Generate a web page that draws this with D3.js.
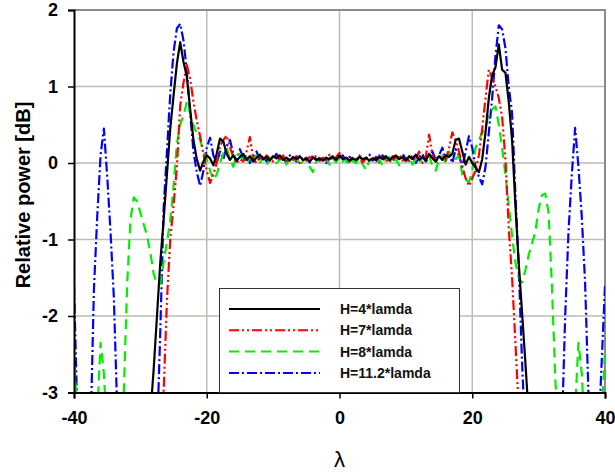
<!DOCTYPE html>
<html>
<head>
<meta charset="utf-8">
<script src="https://cdn.jsdelivr.net/npm/d3@7"></script>
<style>
  body { margin: 0; background: #fff; }
  svg { display: block; font-family: Arial, "Liberation Sans", sans-serif; }
</style>
</head>
<body>
<div id="container"></div>
<script>
// sample grid (wavelength offset), step 0.5
const lam = [
  -40, -39.5, -39, -38.5, -38, -37.5, -37, -36.5, -36, -35.5,
  -35, -34.5, -34, -33.5, -33, -32.5, -32, -31.5, -31, -30.5,
  -30, -29.5, -29, -28.5, -28, -27.5, -27, -26.5, -26, -25.5,
  -25, -24.5, -24, -23.5, -23, -22.5, -22, -21.5, -21, -20.5,
  -20, -19.5, -19, -18.5, -18, -17.5, -17, -16.5, -16, -15.5,
  -15, -14.5, -14, -13.5, -13, -12.5, -12, -11.5, -11, -10.5,
  -10, -9.5, -9, -8.5, -8, -7.5, -7, -6.5, -6, -5.5,
  -5, -4.5, -4, -3.5, -3, -2.5, -2, -1.5, -1, -0.5,
  0, 0.5, 1, 1.5, 2, 2.5, 3, 3.5, 4, 4.5,
  5, 5.5, 6, 6.5, 7, 7.5, 8, 8.5, 9, 9.5,
  10, 10.5, 11, 11.5, 12, 12.5, 13, 13.5, 14, 14.5,
  15, 15.5, 16, 16.5, 17, 17.5, 18, 18.5, 19, 19.5,
  20, 20.5, 21, 21.5, 22, 22.5, 23, 23.5, 24, 24.5,
  25, 25.5, 26, 26.5, 27, 27.5, 28, 28.5, 29, 29.5,
  30, 30.5, 31, 31.5, 32, 32.5, 33, 33.5, 34, 34.5,
  35, 35.5, 36, 36.5, 37, 37.5, 38, 38.5, 39, 39.5,
  40
];

// relative power [dB]; values below -3 run off the bottom of the plot
const h4 = [
  -3.6, -3.6, -3.6, -3.6, -3.6, -3.6, -3.6, -3.6, -3.6, -3.6,
  -3.6, -3.6, -3.6, -3.6, -3.6, -3.6, -3.6, -3.6, -3.6, -3.6,
  -3.6, -3.6, -3.6, -3.3, -2.7, -2.0, -1.3, -0.75, -0.15, 0.45,
  0.88, 1.3, 1.58, 1.32, 1.13, 0.7, 0.3, 0.05, -0.1, 0.02,
  0.1, 0.06, -0.03, 0.12, 0.32, 0.28, 0.12, 0.04, 0.1, 0.03,
  0.08, 0.12, 0.04, 0.09, 0.02, 0.07, 0.11, 0.05, 0.08, 0.03,
  0.09, 0.06, 0.1, 0.04, 0.07, 0.03, 0.08, 0.05, 0.09, 0.04,
  0.06, 0.02, 0.07, 0.04, 0.06, 0.03, 0.07, 0.05, 0.08, 0.04,
  0.1, 0.05, 0.07, 0.03, 0.06, 0.04, 0.08, 0.05, 0.07, 0.03,
  0.06, 0.04, 0.08, 0.05, 0.09, 0.04, 0.07, 0.1, 0.05, 0.08,
  0.03, 0.09, 0.05, 0.11, 0.04, 0.08, 0.03, 0.12, 0.06, 0.02,
  0.09, 0.04, 0.1, 0.08, 0.12, 0.3, 0.32, 0.15, -0.02, 0.08,
  0.0, -0.06, -0.12, 0.05, 0.4, 0.85, 1.15, 1.25, 1.55, 1.22,
  1.18, 0.8, 0.3, -0.55, -1.3, -1.95, -2.6, -3.3, -3.6, -3.6,
  -3.6, -3.6, -3.6, -3.6, -3.6, -3.6, -3.6, -3.6, -3.6, -3.6,
  -3.6, -3.6, -3.6, -3.6, -3.6, -3.6, -3.6, -3.6, -3.6, -3.6,
  -3.6
];

const h7 = [
  -3.6, -3.6, -3.6, -3.6, -3.6, -3.6, -3.6, -3.6, -3.6, -3.6,
  -3.6, -3.6, -3.6, -3.6, -3.6, -3.6, -3.6, -3.6, -3.6, -3.6,
  -3.6, -3.6, -3.6, -3.6, -3.6, -3.6, -3.6, -3.0, -1.8, -1.0,
  -0.55, -0.05, 0.75, 1.05, 1.28, 1.1, 0.8, 0.55, 0.35, 0.12,
  -0.1, -0.26, -0.15, 0.0, 0.22, 0.3, 0.36, 0.2, 0.08, 0.0,
  0.05, 0.02, 0.15, 0.34, 0.05, 0.0, 0.08, 0.03, 0.1, 0.06,
  0.02, 0.09, 0.05, 0.1, 0.01, 0.07, 0.04, 0.09, 0.0, 0.06,
  0.03, 0.08, 0.05, 0.1, 0.02, 0.07, 0.04, 0.11, 0.03, 0.08,
  0.13, 0.04, 0.09, 0.02, 0.07, 0.05, 0.1, 0.01, 0.06, 0.03,
  0.08, 0.02, 0.1, 0.04, 0.06, 0.0, 0.09, 0.05, 0.11, 0.03,
  0.07, 0.02, 0.1, 0.05, 0.15, 0.0, 0.08, 0.37, 0.1, 0.02,
  0.06, 0.1, 0.03, 0.2, 0.4, 0.3, 0.15, -0.05, -0.2, -0.3,
  -0.2, -0.1, 0.1, 0.45, 0.85, 1.22, 1.12, 1.0, 0.85, 0.6,
  0.05, -0.85, -1.5, -2.35, -3.2, -3.6, -3.6, -3.6, -3.6, -3.6,
  -3.6, -3.6, -3.6, -3.6, -3.6, -3.6, -3.6, -3.6, -3.6, -3.6,
  -3.6, -3.6, -3.6, -3.6, -3.6, -3.6, -3.6, -3.6, -3.6, -3.6,
  -3.6
];

const h8 = [
  -2.45, -3.4, -3.6, -3.6, -3.6, -3.6, -3.6, -3.3, -2.35, -2.75,
  -3.6, -3.6, -3.6, -3.6, -3.6, -3.0, -1.6, -0.75, -0.45, -0.5,
  -0.65, -0.8, -0.95, -1.17, -1.45, -1.58, -1.58, -1.3, -1.04, -0.75,
  -0.3, 0.25, 0.5, 0.62, 0.8, 0.65, 0.5, 0.38, 0.3, 0.15,
  0.05, -0.1, -0.22, -0.15, 0.0, 0.13, 0.2, 0.05, -0.05, 0.1,
  0.12, 0.0, 0.08, -0.02, 0.06, 0.1, 0.0, 0.07, -0.03, 0.05,
  0.08, 0.0, 0.04, 0.09, -0.02, 0.05, 0.01, 0.07, -0.04, 0.03,
  0.06, -0.05, -0.12, 0.02, 0.07, 0.0, 0.05, -0.02, 0.06, 0.01,
  0.08, 0.02, 0.05, -0.03, 0.04, 0.0, 0.07, -0.02, -0.09, 0.03,
  0.06, 0.0, 0.05, -0.04, 0.03, 0.08, 0.0, 0.05, -0.03, 0.06,
  0.02, 0.08, -0.02, 0.05, 0.0, 0.07, 0.03, 0.1, -0.05, -0.1,
  0.05, 0.1, 0.0, 0.15, 0.08, 0.05, 0.1, -0.15, -0.22, -0.25,
  -0.1, 0.2, 0.3, 0.4, 0.45, 0.65, 0.7, 0.74, 0.5, 0.2,
  -0.15, -0.55, -0.95, -1.3, -1.5, -1.56, -1.4, -1.2, -1.05, -0.9,
  -0.6, -0.42, -0.4, -0.65, -1.6, -2.8, -3.6, -3.6, -3.6, -3.6,
  -3.6, -3.2, -2.35, -2.75, -3.6, -3.6, -3.6, -3.6, -3.6, -3.3,
  -2.45
];

const h112 = [
  -1.6, -3.3, -3.6, -3.6, -3.6, -3.5, -1.65, -0.7, 0.1, 0.45,
  -0.17, -0.9, -1.75, -3.2, -3.6, -3.6, -3.6, -3.6, -3.6, -3.6,
  -3.6, -3.6, -3.6, -3.6, -3.6, -3.6, -2.2, -0.6, 0.15, 0.9,
  1.45, 1.76, 1.82, 1.6, 1.2, 0.65, 0.15, -0.12, -0.3, -0.1,
  0.2, 0.33, 0.1, 0.0, 0.15, 0.05, 0.22, 0.3, 0.12, 0.02,
  0.18, 0.06, 0.1, 0.0, 0.08, 0.15, 0.04, 0.1, 0.02, 0.09,
  0.05, 0.12, 0.03, 0.08, 0.0, 0.1, 0.06, 0.02, 0.09, 0.04,
  0.07, 0.01, 0.1, 0.05, 0.03, 0.08, 0.0, 0.06, 0.09, 0.03,
  0.07, 0.1, 0.02, 0.08, 0.05, 0.0, 0.09, 0.04, 0.06, 0.11,
  0.03, 0.08, 0.01, 0.1, 0.05, 0.07, 0.02, 0.09, 0.04, 0.12,
  0.05, 0.03, 0.1, 0.0, 0.08, 0.12, 0.02, 0.06, 0.15, 0.04,
  0.1, 0.2, 0.05, 0.12, 0.0, 0.18, 0.1, -0.05, 0.15, 0.35,
  0.2, -0.05, -0.18, -0.28, -0.05, 0.4, 0.85, 1.4, 1.8, 1.75,
  1.5, 1.0, 0.65, -0.4, -1.35, -2.6, -3.6, -3.6, -3.6, -3.6,
  -3.6, -3.6, -3.6, -3.6, -3.6, -3.6, -3.6, -3.5, -2.0, -0.9,
  -0.15, 0.46, -0.05, -0.7, -1.56, -3.0, -3.6, -3.6, -3.6, -2.6,
  -1.6
];

const seriesNames = ['H=4*lamda', 'H=7*lamda', 'H=8*lamda', 'H=11.2*lamda'];
const xTicks = [-40, -20, 0, 20, 40];
const yTicks = [-3, -2, -1, 0, 1, 2];

const width = 615;
const height = 476;
const margin = { left: 74, right: 10, top: 10, bottom: 83.5 };

const svg = d3.select('#container').append('svg')
  .attr('width', width)
  .attr('height', height);

const x = d3.scaleLinear().domain([-40, 40]).range([margin.left, width - margin.right]);
const y = d3.scaleLinear().domain([-3, 2]).range([height - margin.bottom, margin.top]);

const styles = [
  { color: '#000000', dash: null },
  { color: '#ff0000', dash: '10,3,2,3,2,3' },
  { color: '#00ee00', dash: '10,6' },
  { color: '#0000ff', dash: '10,3,2,3' }
];

// grid
svg.append('g')
  .selectAll('line')
  .data(yTicks.filter(d => d > -3 && d < 2))
  .join('line')
  .attr('x1', x(-40)).attr('x2', x(40))
  .attr('y1', d => y(d)).attr('y2', d => y(d))
  .attr('stroke', '#bdbdb4').attr('stroke-width', 1.5);

svg.append('g')
  .selectAll('line')
  .data(xTicks.filter(d => d > -40 && d < 40))
  .join('line')
  .attr('x1', d => x(d)).attr('x2', d => x(d))
  .attr('y1', y(2)).attr('y2', y(-3))
  .attr('stroke', '#bdbdb4').attr('stroke-width', 1.5);

// top/right frame
svg.append('path')
  .attr('d', `M${x(-40)},${y(2)}H${x(40)}V${y(-3)}`)
  .attr('fill', 'none')
  .attr('stroke', '#8a8a8a')
  .attr('stroke-width', 2);

svg.append('clipPath').attr('id', 'plot-clip')
  .append('rect')
  .attr('x', x(-40)).attr('y', y(2))
  .attr('width', x(40) - x(-40))
  .attr('height', y(-3) - y(2));

const line = d3.line()
  .x((d, i) => x(lam[i]))
  .y(d => y(d));

const curves = svg.append('g').attr('clip-path', 'url(#plot-clip)');
const allSeries = [h4, h7, h8, h112];
const drawOrder = [3, 2, 1, 0];

drawOrder.forEach(k => {
  curves.append('path')
    .datum(allSeries[k])
    .attr('d', line)
    .attr('fill', 'none')
    .attr('stroke', styles[k].color)
    .attr('stroke-width', 2.2)
    .attr('stroke-linejoin', 'round')
    .attr('stroke-dasharray', styles[k].dash);
});

// axes
const fmt = d => String(d);
const xAxis = svg.append('g')
  .attr('transform', `translate(0,${y(-3)})`)
  .call(d3.axisBottom(x).tickValues(xTicks).tickFormat(fmt).tickSize(6).tickPadding(13));

const yAxis = svg.append('g')
  .attr('transform', `translate(${x(-40)},0)`)
  .call(d3.axisLeft(y).tickValues(yTicks).tickFormat(fmt).tickSize(6).tickPadding(10));

[xAxis, yAxis].forEach(ax => {
  ax.select('.domain').attr('stroke', '#000').attr('stroke-width', 2);
  ax.selectAll('.tick line').attr('stroke', '#000').attr('stroke-width', 1.5);
  ax.selectAll('.tick text')
    .attr('fill', '#000')
    .style('font-size', '18px')
    .style('font-weight', 'bold')
    .style('font-family', 'Arial, "Liberation Sans", sans-serif');
});

// legend
const legend = svg.append('g');
legend.append('rect')
  .attr('x', 219.5).attr('y', 288.5)
  .attr('width', 240).attr('height', y(-3) - 288.5)
  .attr('fill', '#fff')
  .attr('stroke', '#333')
  .attr('stroke-width', 1);

seriesNames.forEach((name, k) => {
  const ly = 309 + k * 21.3;
  legend.append('line')
    .attr('x1', 229).attr('x2', 320)
    .attr('y1', ly).attr('y2', ly)
    .attr('stroke', styles[k].color)
    .attr('stroke-width', 2)
    .attr('stroke-dasharray', styles[k].dash);
  legend.append('text')
    .attr('x', 340).attr('y', ly + 5)
    .style('font-size', '14px')
    .style('font-weight', 'bold')
    .attr('fill', '#111')
    .text(name);
});

// titles
svg.append('text')
  .attr('transform', `translate(30,195) rotate(-90)`)
  .attr('text-anchor', 'middle')
  .style('font-size', '20px')
  .style('font-weight', 'bold')
  .text('Relative power [dB]');

svg.append('text')
  .attr('x', x(0))
  .attr('y', 467)
  .attr('text-anchor', 'middle')
  .style('font-size', '22px')
  .text('λ');
</script>
</body>
</html>
